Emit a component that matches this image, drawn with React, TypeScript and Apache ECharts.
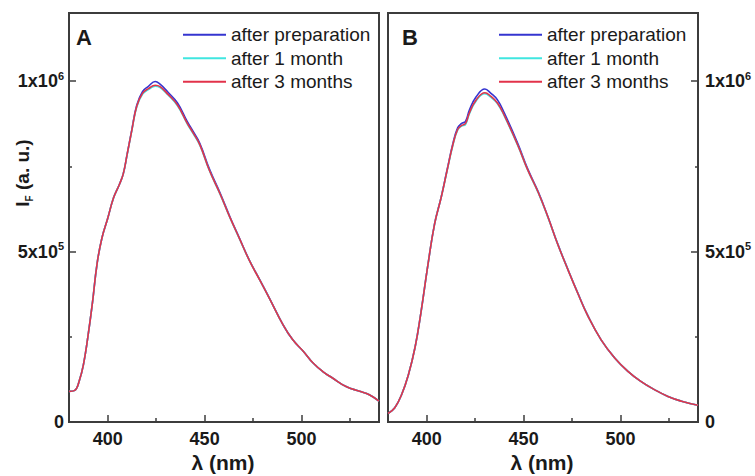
import React, { useEffect, useRef } from "react";
import * as echarts from "echarts";

// ---------- data ----------
const seriesNames = ["after preparation", "after 1 month", "after 3 months"];
const seriesColors = ["#3535d0", "#40e6e0", "#e2324a"];

// Panel A (values in thousands)
const lambdaA = [380, 383, 385.5, 387.5, 389.5, 392, 394.5, 397, 400, 403, 406, 408, 410, 412.5, 415, 418, 421, 424.5, 427, 431, 436, 441, 444, 447.5, 452.5, 458, 463, 468, 473, 478.5, 483.5, 490.5, 495.5, 501, 506, 511, 516, 523, 530, 535, 540];
const aPrep = [90, 93, 125, 170, 240, 345, 465, 540, 598, 658, 697, 728, 785, 860, 930, 970, 985, 999, 991, 968, 936, 882, 853, 818, 742, 672, 603, 539, 476, 417, 363, 285, 241, 207, 173, 148, 129, 104, 90, 80, 61];
const a1Month = [90, 93, 125, 170, 240, 345, 465, 540, 598, 658, 697, 728, 784, 857, 925, 962, 975, 985, 981, 960, 928, 875, 847, 812, 737, 668, 600, 537, 475, 416, 362, 285, 241, 207, 173, 148, 129, 104, 90, 80, 61];
const a3Months = [90, 93, 125, 170, 240, 345, 465, 540, 598, 658, 697, 728, 785, 858, 927, 965, 978, 988, 984, 962, 930, 877, 849, 814, 738, 669, 601, 538, 475, 416, 362, 285, 241, 207, 173, 148, 129, 104, 90, 80, 61];

// Panel B (values in thousands)
const lambdaB = [380, 383.5, 387, 390.5, 394, 397, 400.5, 404, 407.5, 410.5, 413.5, 416, 418, 420, 422, 425.5, 430, 433, 436.5, 440, 447, 452, 457.5, 462.5, 467.5, 473, 478, 483, 490, 497, 504, 510.5, 517.5, 524.5, 531.5, 540];
const bPrep = [25, 42, 80, 138, 220, 321, 457, 580, 661, 740, 817, 864, 876, 882, 915, 954, 977, 965, 945, 907, 817, 744, 676, 603, 524, 446, 378, 314, 241, 188, 148, 119, 95, 75, 61, 49];
const b1Month = [25, 42, 80, 138, 220, 321, 457, 580, 660, 737, 812, 857, 868, 873, 904, 942, 963, 953, 934, 898, 811, 740, 673, 601, 523, 445, 377, 313, 241, 188, 148, 119, 95, 75, 61, 49];
const b3Months = [25, 42, 80, 138, 220, 321, 457, 580, 660, 738, 814, 859, 870, 876, 907, 945, 966, 956, 936, 900, 812, 741, 674, 602, 523, 445, 377, 313, 241, 188, 148, 119, 95, 75, 61, 49];

const valueScale = 1000;

// ticks
const xMajorTicks = [400, 450, 500];
const xMinorTicks = [425, 475, 525];
const yMajorTicks = [0, 500000, 1000000];
const yTickMantissa = ["0", "5x10", "1x10"];
const yTickExponent = ["", "5", "6"];
const yMinorTicks = [250000, 750000];

const FONT = "'Liberation Sans', Arial, Helvetica, sans-serif";
const AXIS_COLOR = "#3c3c3c";

function pairs(xs: number[], ys: number[]) {
  return xs.map((x, i) => [x, ys[i] * valueScale]);
}

function yLabelFormatter(v: number) {
  const i = yMajorTicks.indexOf(v);
  if (i < 0) return "";
  if (!yTickExponent[i]) return "{b|" + yTickMantissa[i] + "}";
  return "{b|" + yTickMantissa[i] + "}{s|" + yTickExponent[i] + "}";
}

const yRich = {
  b: { fontSize: 18, fontWeight: "bold", fontFamily: FONT, color: "#1a1a1a", lineHeight: 22 },
  s: { fontSize: 11, fontWeight: "bold", fontFamily: FONT, color: "#1a1a1a", verticalAlign: "top", lineHeight: 12 },
};

function xAxes(gridIndex: number) {
  return [
    {
      gridIndex,
      type: "value",
      min: 380,
      max: 540,
      position: "bottom",
      axisLine: { show: false },
      splitLine: { show: false },
      axisTick: { show: true, inside: true, length: 7, customValues: xMajorTicks, lineStyle: { color: AXIS_COLOR, width: 1.5 } },
      axisLabel: { show: true, customValues: xMajorTicks, margin: 8, fontSize: 18, fontWeight: "bold", fontFamily: FONT, color: "#1a1a1a" },
    },
    {
      gridIndex,
      type: "value",
      min: 380,
      max: 540,
      position: "bottom",
      axisLine: { show: false },
      splitLine: { show: false },
      axisTick: { show: true, inside: true, length: 4, customValues: xMinorTicks, lineStyle: { color: AXIS_COLOR, width: 1.5 } },
      axisLabel: { show: false },
    },
  ];
}

function yAxes(gridIndex: number, position: "left" | "right") {
  return [
    {
      gridIndex,
      type: "value",
      min: 0,
      max: 1200000,
      position,
      axisLine: { show: false },
      splitLine: { show: false },
      axisTick: { show: true, inside: true, length: 7, customValues: yMajorTicks, lineStyle: { color: AXIS_COLOR, width: 1.5 } },
      axisLabel: {
        show: true,
        customValues: yMajorTicks,
        margin: position === "left" ? 5 : 7,
        formatter: yLabelFormatter,
        rich: yRich,
      },
    },
    {
      gridIndex,
      type: "value",
      min: 0,
      max: 1200000,
      position,
      axisLine: { show: false },
      splitLine: { show: false },
      axisTick: { show: true, inside: true, length: 3, customValues: yMinorTicks, lineStyle: { color: AXIS_COLOR, width: 1.5 } },
      axisLabel: { show: false },
    },
  ];
}

function lineSeries(name: string, color: string, data: number[][], axisIndex: number) {
  return {
    type: "line",
    name,
    xAxisIndex: axisIndex,
    yAxisIndex: axisIndex,
    data,
    color,
    showSymbol: false,
    symbol: "none",
    smooth: 0.45,
    lineStyle: { color, width: 1.6 },
    emphasis: { disabled: true },
  };
}

function legend(left: number) {
  return {
    left,
    top: 18,
    orient: "vertical",
    icon: "rect",
    itemWidth: 43,
    itemHeight: 2,
    itemGap: 0,
    selectedMode: false,
    textStyle: { fontSize: 19, lineHeight: 23.5, color: "#1a1a1a", fontFamily: FONT },
    data: seriesNames,
  };
}

export default function App() {
  const ref = useRef<HTMLDivElement>(null);
  useEffect(() => {
    if (!ref.current) return;
    const chart = echarts.init(ref.current, undefined, { renderer: "svg" });
    const gridStyle = { show: true, borderColor: AXIS_COLOR, borderWidth: 2, backgroundColor: "transparent", containLabel: false };
    const option = {
      animation: false,
      backgroundColor: "#ffffff",
      grid: [
        { ...gridStyle, left: 69, right: 376, top: 13, bottom: 54 },
        { ...gridStyle, left: 388, right: 57, top: 13, bottom: 54 },
      ],
      xAxis: [...xAxes(0), ...xAxes(1)],
      yAxis: [...yAxes(0, "left"), ...yAxes(1, "right")],
      legend: [legend(178), legend(494)],
      series: [
        lineSeries(seriesNames[0], seriesColors[0], pairs(lambdaA, aPrep), 0),
        lineSeries(seriesNames[1], seriesColors[1], pairs(lambdaA, a1Month), 0),
        lineSeries(seriesNames[2], seriesColors[2], pairs(lambdaA, a3Months), 0),
        lineSeries(seriesNames[0], seriesColors[0], pairs(lambdaB, bPrep), 2),
        lineSeries(seriesNames[1], seriesColors[1], pairs(lambdaB, b1Month), 2),
        lineSeries(seriesNames[2], seriesColors[2], pairs(lambdaB, b3Months), 2),
      ],
      graphic: [
        { type: "text", x: 76, y: 37, style: { text: "A", font: "bold 22px " + FONT, fill: "#1a1a1a", verticalAlign: "middle" } },
        { type: "text", x: 402, y: 37, style: { text: "B", font: "bold 22px " + FONT, fill: "#1a1a1a", verticalAlign: "middle" } },
        { type: "text", x: 223, y: 462, style: { text: "λ (nm)", font: "bold 21px " + FONT, fill: "#1a1a1a", align: "center", verticalAlign: "middle" } },
        { type: "text", x: 542, y: 462, style: { text: "λ (nm)", font: "bold 21px " + FONT, fill: "#1a1a1a", align: "center", verticalAlign: "middle" } },
        {
          type: "text",
          x: 22,
          y: 173,
          rotation: Math.PI / 2,
          style: {
            text: "{i|I}{s|F}{i| (a. u.)}",
            align: "center",
            verticalAlign: "middle",
            rich: {
              i: { fontSize: 19, fontWeight: "bold", fontFamily: FONT, fill: "#1a1a1a", lineHeight: 24 },
              s: { fontSize: 10, fontWeight: "bold", fontFamily: FONT, fill: "#1a1a1a", verticalAlign: "bottom", lineHeight: 12 },
            },
          },
        },
      ],
    };
    chart.setOption(option as any);
    return () => chart.dispose();
  }, []);
  return (
    <div
      ref={ref}
      style={{ position: "fixed", left: 0, top: 0, width: 755, height: 476, background: "#fff" }}
    />
  );
}
